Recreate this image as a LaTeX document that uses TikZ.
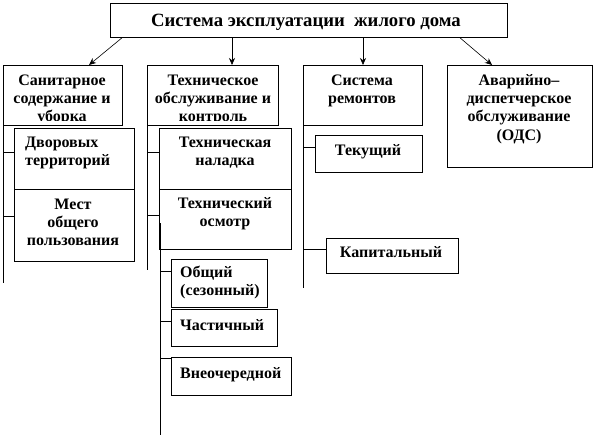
\documentclass[tikz,border=0pt]{standalone}
\usepackage{fontspec}
\setmainfont{Liberation Serif}
\usetikzlibrary{arrows.meta}
\begin{document}
\begin{tikzpicture}[x=1pt,y=-1pt,
  box/.style={draw, line width=0.8pt, inner sep=0pt, anchor=north west},
  lbl/.style={font=\bfseries\fontsize{16}{18.4}\selectfont, inner sep=0pt, anchor=base},
  lbll/.style={lbl, anchor=base west},
  ttl/.style={font=\bfseries\fontsize{18.7}{21.5}\selectfont, inner sep=0pt, anchor=base},
  trunk/.style={line width=0.8pt},
  arr/.style={line width=0.6pt, -{Stealth[length=7pt,width=6pt]}}]
\useasboundingbox (0,0) rectangle (594,439);
% boxes
\node[box, minimum width=397, minimum height=34] (T) at (110,3) {};
\node[box, minimum width=119, minimum height=60] (san) at (3,65) {};
\node[box, minimum width=131, minimum height=60] (teh) at (147,65) {};
\node[box, minimum width=119, minimum height=60] (rem) at (303,65) {};
\node[box, minimum width=145, minimum height=102] (avar) at (447,65) {};
\node[box, minimum width=120, minimum height=61] (dvor) at (14,128) {};
\node[box, minimum width=120, minimum height=72] (mest) at (14,189) {};
\node[box, minimum width=132, minimum height=61] (nal) at (159,128) {};
\node[box, minimum width=132, minimum height=60] (osm) at (159,189) {};
\node[box, minimum width=96, minimum height=48] (obsh) at (171,259) {};
\node[box, minimum width=106, minimum height=37] (chast) at (171,309) {};
\node[box, minimum width=120, minimum height=38] (vneo) at (171,357) {};
\node[box, minimum width=107, minimum height=37] (tek) at (315,135) {};
\node[box, minimum width=132, minimum height=35] (kap) at (326,238) {};
% arrows
\draw[arr] (T.south -| 122,0) -- (san.north -| 89,0);
\draw[arr] (T.south -| 232,0) -- (teh.north -| 232,0);
\draw[arr] (T.south -| 363,0) -- (rem.north -| 363,0);
\draw[arr] (T.south -| 460,0) -- (avar.north -| 492,0);
% trunks
\coordinate (l1t) at (3,100);  \coordinate (l1b) at (3,283);
\coordinate (l2t) at (147,103); \coordinate (l2b) at (147,270);
\coordinate (l3t) at (160,223); \coordinate (l3b) at (160,435);
\coordinate (l4t) at (303,100); \coordinate (l4b) at (303,288);
\draw[trunk] (l1t) -- (l1b);
\draw[trunk] (l2t) -- (l2b);
\draw[trunk] (l3t) -- (l3b);
\draw[trunk] (l4t) -- (l4b);
\draw[trunk] (l1t |- 0,152) -- (dvor.west |- 0,152);
\draw[trunk] (l1t |- 0,216) -- (mest.west |- 0,216);
\draw[trunk] (l2t |- 0,152) -- (nal.west |- 0,152);
\draw[trunk] (l2t |- 0,215) -- (osm.west |- 0,215);
\draw[trunk] (l3t |- 0,271) -- (obsh.west |- 0,271);
\draw[trunk] (l3t |- 0,321) -- (chast.west |- 0,321);
\draw[trunk] (l3t |- 0,358) -- (vneo.west |- 0,358);
\draw[trunk] (l4t |- 0,147) -- (tek.west |- 0,147);
\draw[trunk] (l4t |- 0,249) -- (kap.west |- 0,249);
% texts
\node[ttl] (tT) at (306,26) {Система эксплуатации\ \ жилого дома};
\begin{scope}
\clip (4,66) rectangle (121,120.5);
\node[lbl] (tsan) at (62,85) {\begin{tabular}[t]{@{}c@{}}Санитарное\\содержание и\\уборка\end{tabular}};
\end{scope}
\begin{scope}
\clip (148,66) rectangle (277,120.5);
\node[lbl] (tteh) at (213,85) {\begin{tabular}[t]{@{}c@{}}Техническое\\обслуживание и\\контроль\end{tabular}};
\end{scope}
\node[lbl] (trem) at (362,85) {\begin{tabular}[t]{@{}c@{}}Система\\ремонтов\end{tabular}};
\node[lbl] (tavar) at (519,85) {\begin{tabular}[t]{@{}c@{}}Аварийно–\\диспетчерское\\обслуживание\\(ОДС)\end{tabular}};
\node[lbll] (tdvor) at (25,147) {\begin{tabular}[t]{@{}l@{}}Дворовых\\территорий\end{tabular}};
\node[lbl] (tmest) at (73,209) {\begin{tabular}[t]{@{}c@{}}Мест\\общего\\пользования\end{tabular}};
\node[lbl] (tnal) at (225,147) {\begin{tabular}[t]{@{}c@{}}Техническая\\наладка\end{tabular}};
\node[lbl] (tosm) at (225,208) {\begin{tabular}[t]{@{}c@{}}Технический\\осмотр\end{tabular}};
\node[lbll] (tobsh) at (180,277) {\begin{tabular}[t]{@{}l@{}}Общий\\(сезонный)\end{tabular}};
\node[lbll] (tchast) at (180,330) {Частичный};
\node[lbll] (tvneo) at (180,378) {Внеочередной};
\node[lbl] (ttek) at (368,155) {Текущий};
\node[lbl] (tkap) at (391,257) {Капитальный};
\end{tikzpicture}
\end{document}
